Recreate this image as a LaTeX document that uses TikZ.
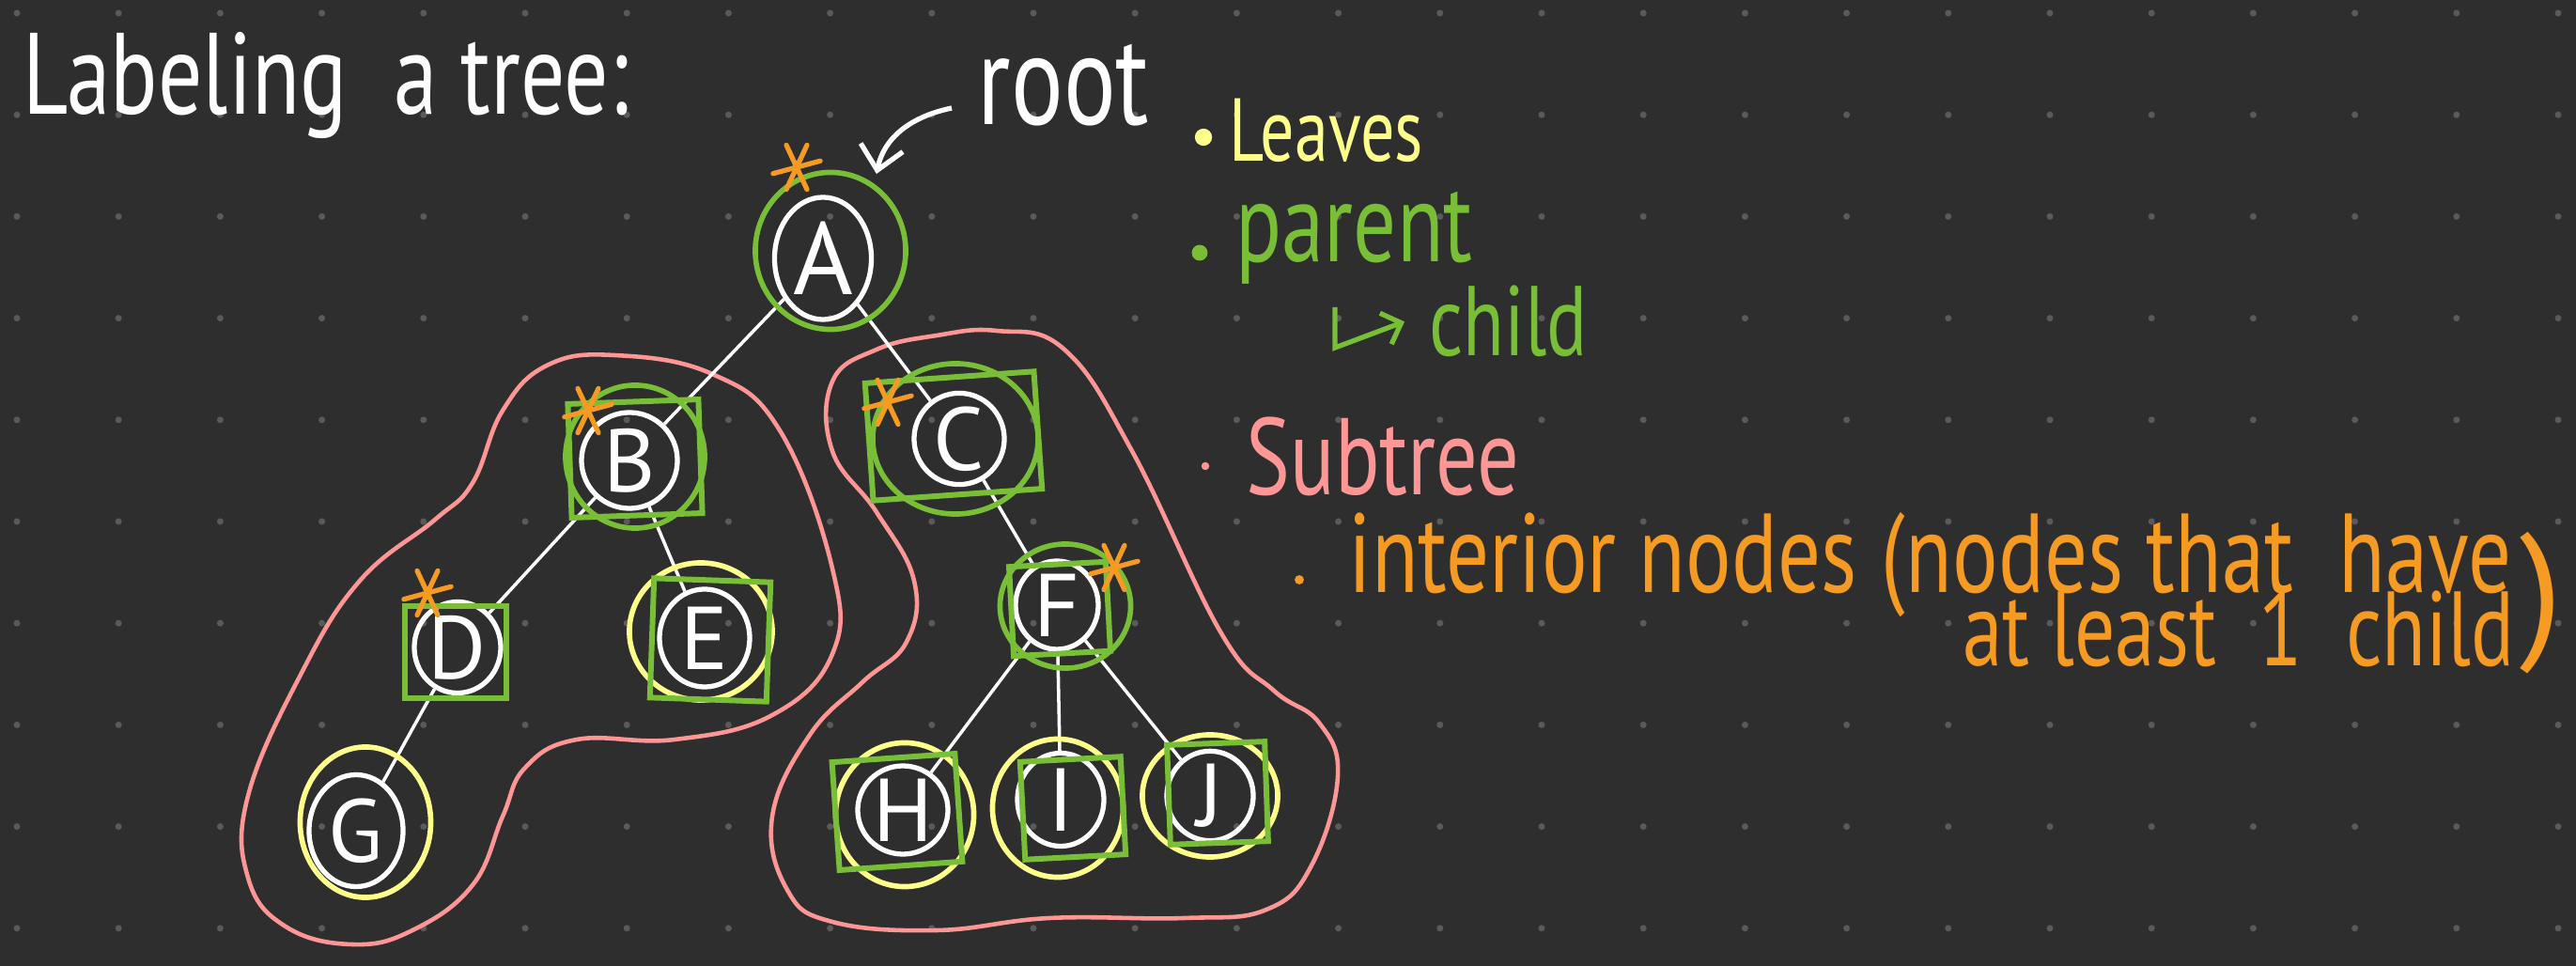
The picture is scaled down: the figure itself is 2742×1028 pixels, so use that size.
\documentclass[tikz,border=0pt]{standalone}
\usepackage{fontspec}
\usepackage{graphicx}
\setmainfont{PT Sans}
\usetikzlibrary{shapes.geometric,arrows.meta}

\definecolor{board}{HTML}{2E2E2E}
\definecolor{griddot}{HTML}{5A5A5A}
\definecolor{leafyellow}{HTML}{FFFF8C}
\definecolor{parentgreen}{HTML}{78BE36}
\definecolor{subtreepink}{HTML}{FF9696}
\definecolor{interiororange}{HTML}{F59A23}

\newcommand{\handwrite}[2]{{\fontsize{#1}{#1}\selectfont\scalebox{0.76}[1]{#2}}}

\begin{document}
\begin{tikzpicture}[x=0.01cm, y=-0.01cm,
    vertex/.style={draw=white, ellipse, line width=1.5pt, inner sep=0pt,
        text=white, font=\fontsize{27}{27}\selectfont},
    branch/.style={white, line width=1pt},
    ring/.style={draw, ellipse, line width=1.6pt, inner sep=0pt},
    box/.style={draw=parentgreen, rectangle, line width=1.7pt, inner sep=0pt},
    outline/.style={subtreepink, line width=1.3pt},
    asterisk/.style={interiororange, line width=1.5pt, line cap=round},
    note/.style={inner sep=0pt, anchor=base west}]

    % Board and dot grid
    \fill[board] (0,0) rectangle (2742,1028);
    \useasboundingbox (0,0) rectangle (2742,1028);
    \foreach \i in {0,...,25}
        \foreach \j in {0,...,9}
            \fill[griddot] (18+108.2*\i, 14+108.2*\j) circle (1pt);

    % Subtree outlines
    \draw[outline] plot[smooth cycle, tension=0.7] coordinates {
        (582,389) (654,378) (758,398) (830,458) (886,605) (886,696)
        (822,761) (718,787) (614,787) (559,817) (535,869) (503,942)
        (439,990) (375,1005) (304,986) (264,934) (264,847) (320,718)
        (383,618) (463,553) (503,514) (535,437)};
    \draw[outline] plot[smooth cycle, tension=0.7] coordinates {
        (1061,352) (1133,372) (1205,480) (1300,674) (1356,735) (1404,769)
        (1424,826) (1396,921) (1348,968) (1260,977) (1117,977) (997,990)
        (886,981) (838,947) (822,869) (862,782) (918,726) (965,683)
        (973,618) (933,545) (886,480) (886,406) (933,372) (997,357)};

    % Tree nodes
    \node[vertex, minimum width=1.03cm, minimum height=1.30cm, font=\fontsize{31}{31}\selectfont] (A) at (876,275) {A};
    \node[vertex, minimum width=1.02cm, minimum height=1.02cm] (B) at (670,490) {B};
    \node[vertex, minimum width=0.96cm, minimum height=0.97cm] (C) at (1021,467) {C};
    \node[vertex, minimum width=0.92cm, minimum height=0.97cm] (D) at (487,689) {D};
    \node[vertex, minimum width=0.96cm, minimum height=1.04cm] (E) at (750,679) {E};
    \node[vertex, minimum width=0.88cm, minimum height=0.86cm] (F) at (1125,644) {F};
    \node[vertex, minimum width=1.00cm, minimum height=1.19cm] (G) at (379,884) {G};
    \node[vertex, minimum width=0.96cm, minimum height=0.93cm] (H) at (961,862) {H};
    \node[vertex, minimum width=0.92cm, minimum height=0.99cm] (I) at (1129,851) {I};
    \node[vertex, minimum width=0.92cm, minimum height=0.93cm] (J) at (1288,847) {J};

    % Edges
    \draw[branch] (A) -- (B);
    \draw[branch] (A) -- (C);
    \draw[branch] (B) -- (D);
    \draw[branch] (B) -- (E);
    \draw[branch] (D) -- (G);
    \draw[branch] (C) -- (F);
    \draw[branch] (F) -- (H);
    \draw[branch] (F) -- (I);
    \draw[branch] (F) -- (J);

    % Leaves
    \node[ring, draw=leafyellow, minimum width=1.52cm, minimum height=1.46cm] (Eleaf) at (746,672) {};
    \node[ring, draw=leafyellow, minimum width=1.39cm, minimum height=1.60cm] (Gleaf) at (389,875) {};
    \node[ring, draw=leafyellow, minimum width=1.47cm, minimum height=1.53cm] (Hleaf) at (963,867) {};
    \node[ring, draw=leafyellow, minimum width=1.39cm, minimum height=1.47cm] (Ileaf) at (1126,860) {};
    \node[ring, draw=leafyellow, minimum width=1.44cm, minimum height=1.30cm] (Jleaf) at (1288,847) {};

    % Parents (circles) and children (squares)
    \node[ring, draw=parentgreen, minimum width=1.60cm, minimum height=1.67cm] (Aparent) at (884,267) {};
    \node[ring, draw=parentgreen, minimum width=1.48cm, minimum height=1.52cm] (Bparent) at (676,486) {};
    \node[ring, draw=parentgreen, minimum width=1.76cm, minimum height=1.60cm] (Cparent) at (1017,467) {};
    \node[ring, draw=parentgreen, minimum width=1.39cm, minimum height=1.32cm] (Fparent) at (1134,645) {};
    \node[box, minimum width=1.39cm, minimum height=1.21cm, rotate=2] (Bchild) at (676,488) {};
    \node[box, minimum width=1.80cm, minimum height=1.25cm, rotate=4] (Cchild) at (1015,464) {};
    \node[box, minimum width=1.08cm, minimum height=0.97cm] (Dchild) at (485,694) {};
    \node[box, minimum width=1.24cm, minimum height=1.27cm, rotate=-2] (Echild) at (756,681) {};
    \node[box, minimum width=1.03cm, minimum height=0.95cm, rotate=3] (Fchild) at (1128,648) {};
    \node[box, minimum width=1.31cm, minimum height=1.15cm, rotate=4] (Hchild) at (955,864) {};
    \node[box, minimum width=1.07cm, minimum height=1.04cm, rotate=3] (Ichild) at (1142,860) {};
    \node[box, minimum width=1.04cm, minimum height=1.06cm, rotate=2] (Jchild) at (1296,844) {};

    % Interior marks
    \foreach \sx/\sy in {848/178, 626/437, 945/428, 455/631, 1186/604}
        \foreach \a in {-15, 65, 115}
            \draw[asterisk] (\sx,\sy) ++(\a:26) -- ++(\a+180:52);

    % Title and root label
    \node[note, text=white] (title) at (24,122) {\handwrite{35}{Labeling\ \ a tree:}};
    \node[note, text=white] (root) at (1040,133) {\handwrite{39}{root}};
    \coordinate (rootpoint) at (933,185);
    \draw[white, line width=1.5pt, -{Straight Barb[length=7pt,width=13pt]}]
        ([shift={(-27,-18)}]root.base west) .. controls (965,125) and (940,150) .. (rootpoint);

    % Legend
    \fill[leafyellow] (1281,146) circle (2.6pt);
    \node[note, text=leafyellow] (leaves) at (1308,172) {\handwrite{27}{Leaves}};
    \fill[parentgreen] (1277,269) circle (2.4pt);
    \node[note, text=parentgreen] (parent) at (1315,279) {\handwrite{34}{parent}};
    \node[note, text=parentgreen] (child) at (1521,379) {\handwrite{30}{child}};
    \draw[parentgreen, line width=1.5pt, -{Straight Barb[length=5pt,width=10pt]}]
        ([shift={(106,48)}]parent.base west) -- ++(0,43) -- ([xshift=-0.26cm]child.west);
    \fill[subtreepink] (1283,496) circle (1.2pt);
    \node[note, text=subtreepink] (subtree) at (1326,527) {\handwrite{33}{Subtree}};
    \fill[interiororange] (1383,617) circle (1.4pt);
    \node[note, text=interiororange] (interior) at (1435,631) {\handwrite{34}{interior nodes}};
    \node[note, text=interiororange] (openparen) at ([xshift=0.24cm]interior.base east) {\handwrite{34}{(}};
    \node[note, text=interiororange] (aside) at (openparen.base east) {\handwrite{34}{nodes that\ \ have}};
    \node[note, anchor=base east, text=interiororange] (atleast) at (2677,709) {\handwrite{32}{at least\ \ 1\ \ child}};
    \node[inner sep=0pt, text=interiororange] (paren) at (2705,642) {\fontsize{46}{46}\selectfont )};
\end{tikzpicture}
\end{document}
